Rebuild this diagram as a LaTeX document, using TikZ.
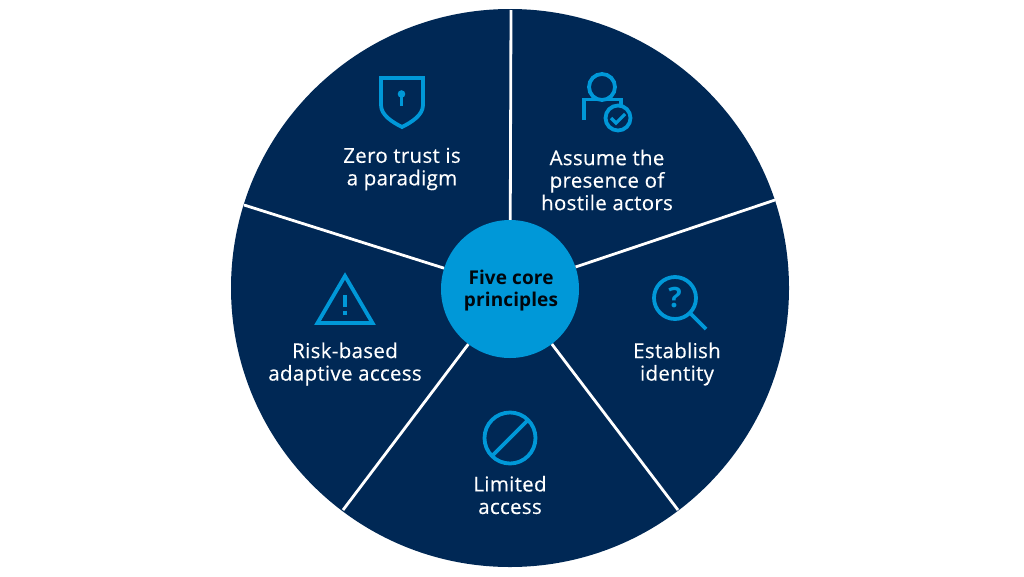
\documentclass[tikz,border=0pt]{standalone}
\usepackage{fontspec}
\setmainfont{Open Sans}
\newfontfamily\labelfont[FakeBold=0.25,LetterSpace=1.5]{Open Sans}
\newfontfamily\hubfont[LetterSpace=0.6]{Open Sans}
\definecolor{navy}{HTML}{002855}
\definecolor{skyblue}{HTML}{0098D8}
\tikzset{
  label/.style={align=center,text=white,font=\labelfont\fontsize{20.5}{22.5}\selectfont,inner sep=0pt},
  icon/.style={draw=skyblue,line width=3.8pt},
  spoke/.style={draw=white,line width=2.8pt},
}
\begin{document}
\begin{tikzpicture}[x=1pt,y=-1pt]
  \useasboundingbox (0,0) rectangle (1024,576);
  \node (wheel) [circle,fill=navy,minimum size=558pt,inner sep=0pt] at (510,288) {};
  \node (hub) [circle,fill=skyblue,minimum size=138pt,inner sep=0pt] at (510,289) {};
  \node (hubtext) [inner sep=0pt,align=center,
    font=\hubfont\fontsize{19}{22}\selectfont\bfseries,text=black!85!navy] at (511,291) {Five core\\principles};
  \coordinate (rimA) at (511,10);
  \coordinate (rimB) at (775,200);
  \coordinate (rimC) at (678,510);
  \coordinate (rimD) at (343,510);
  \coordinate (rimE) at (244,205);
  \foreach \rim in {rimA,rimB,rimC,rimD,rimE}
    \draw [spoke] (hub) -- (\rim);
  % labels
  \node (zero) [label] at (402,169) {Zero trust is\\a paradigm};
  \node (assume) [label] at (607,180) {Assume the\\presence of\\hostile actors};
  \node (identity) [label] at (677,364) {Establish\\identity};
  \node (limited) [label] at (510,495) {Limited\\access};
  \node (risk) [label] at (345,364) {Risk-based\\adaptive access};
  % shield
  \draw [icon] (381,78) -- (423,78) -- (423,105) .. controls (423,115) and (412,122) .. (402,127)
    .. controls (392,122) and (381,115) .. (381,105) -- cycle;
  \fill [skyblue] (401.5,94) circle (3.8pt);
  \draw [skyblue,line width=3pt] (401.5,94) -- (401.5,106);
  % person
  \draw [icon] (602,87) circle (13pt);
  \draw [icon] (584,120) -- (584,99.5) -- (621,99.5) -- (621,106);
  \draw [icon] (618,118) circle (12.5pt);
  \draw [skyblue,line width=3.2pt] (611,118) -- (616,123) -- (625,114);
  % magnifier
  \draw [icon] (675,298) circle (21pt);
  \draw [icon] (690,313) -- (706,329);
  \node (question) [text=skyblue,inner sep=0pt,font=\fontsize{28}{28}\selectfont\bfseries] at (675,298) {?};
  % ban
  \draw [icon] (510,438) circle (25.5pt);
  \draw [icon] (492,456) -- (528,420);
  % warning
  \draw [icon,line join=miter] (345,276) -- (372.5,323) -- (317.5,323) -- cycle;
  \draw [skyblue,line width=3.8pt] (345,295) -- (345,307);
  \draw [skyblue,line width=3.8pt] (345,310.5) -- (345,315);
\end{tikzpicture}
\end{document}
